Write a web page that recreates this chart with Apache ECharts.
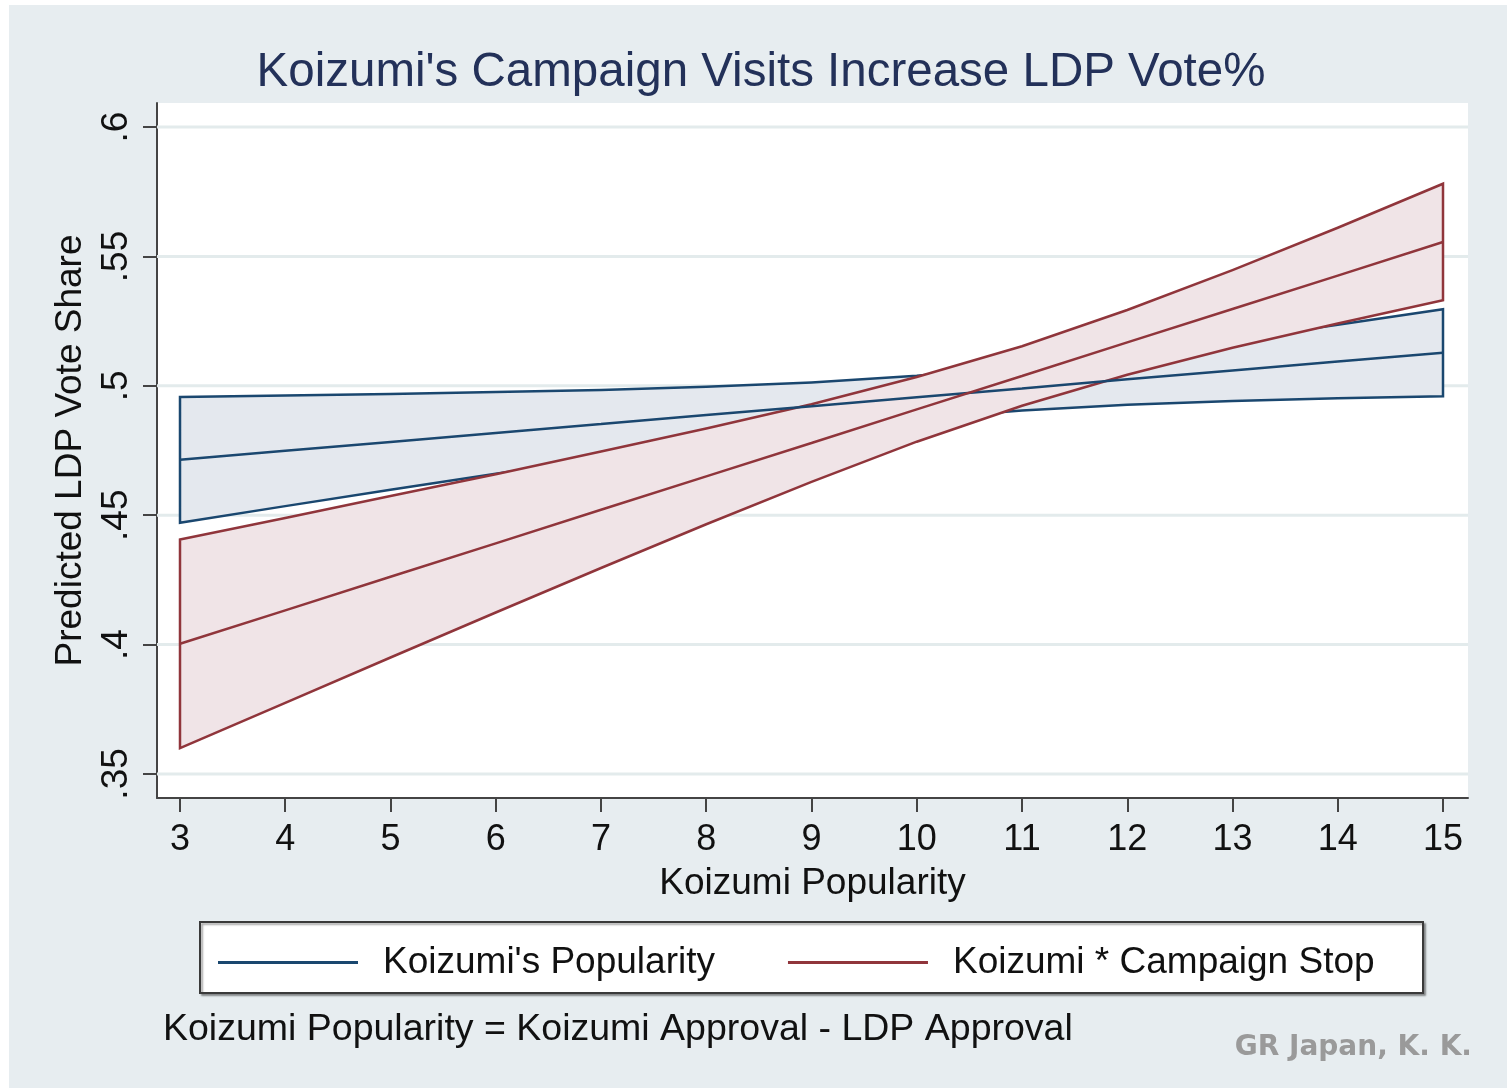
<!DOCTYPE html>
<html>
<head>
<meta charset="utf-8">
<script src="https://cdn.jsdelivr.net/npm/echarts@6/dist/echarts.min.js"></script>
<style>
  html, body { margin: 0; padding: 0; background: #fff; }
  #main { position: absolute; left: 9px; top: 5px; width: 1498px; height: 1083px; background: #e7edf0; }
</style>
</head>
<body>
<div id="main"></div>
<script>
// predicted vote share by Koizumi popularity, with 95% bands
const xs = [3, 4, 5, 6, 7, 8, 9, 10, 11, 12, 13, 14, 15];
const blueFit   = [0.4714, 0.4749, 0.4783, 0.4818, 0.4852, 0.4887, 0.4921, 0.4956, 0.4990, 0.5025, 0.5059, 0.5094, 0.5128];
const blueUpper = [0.4957, 0.4963, 0.4968, 0.4976, 0.4984, 0.4996, 0.5013, 0.5039, 0.5075, 0.5123, 0.5177, 0.5236, 0.5296];
const blueLower = [0.4471, 0.4535, 0.4598, 0.4660, 0.4720, 0.4778, 0.4829, 0.4873, 0.4905, 0.4927, 0.4941, 0.4952, 0.4960];
const redFit    = [0.4003, 0.4132, 0.4262, 0.4391, 0.4521, 0.4650, 0.4779, 0.4909, 0.5038, 0.5168, 0.5297, 0.5426, 0.5556];
const redUpper  = [0.4406, 0.4489, 0.4574, 0.4658, 0.4746, 0.4835, 0.4929, 0.5034, 0.5153, 0.5293, 0.5447, 0.5611, 0.5781];
const redLower  = [0.3600, 0.3775, 0.3950, 0.4124, 0.4296, 0.4465, 0.4629, 0.4784, 0.4923, 0.5043, 0.5147, 0.5241, 0.5331];
const yTicks = [0.35, 0.4, 0.45, 0.5, 0.55, 0.6];
const xTicks = [3, 4, 5, 6, 7, 8, 9, 10, 11, 12, 13, 14, 15];

const seriesNames = ["Koizumi's Popularity", "Koizumi * Campaign Stop"];
const titleText = "Koizumi's Campaign Visits Increase LDP Vote%";
const noteText = "Koizumi Popularity = Koizumi Approval - LDP Approval";

const BLUE = '#1a476f', RED = '#90353b';
const FONT = '"Liberation Sans", Arial, sans-serif';
const X_MIN = 2.7815, X_MAX = 15.2375, Y_MIN = 0.3407, Y_MAX = 0.6093;

let chart = echarts.init(document.getElementById('main'), null, { renderer: 'canvas' });

function band(lower, upper, fill, stroke, z) {
  return {
    type: 'custom',
    z: z,
    clip: true,
    silent: true,
    data: xs.map((x, i) => [x, lower[i], upper[i]]),
    encode: { x: 0, y: [1, 2] },
    renderItem: function (params, api) {
      if (params.dataIndex !== 0) return null;
      let pts = [];
      for (let i = 0; i < xs.length; i++) pts.push(api.coord([xs[i], upper[i]]));
      for (let i = xs.length - 1; i >= 0; i--) pts.push(api.coord([xs[i], lower[i]]));
      return {
        type: 'polygon',
        shape: { points: pts },
        style: { fill: fill, stroke: stroke, lineWidth: 2.5, lineJoin: 'miter' }
      };
    }
  };
}

function fitLine(name, vals, color, z) {
  return {
    name: name,
    type: 'line',
    z: z,
    symbol: 'none',
    silent: true,
    data: xs.map((x, i) => [x, vals[i]]),
    lineStyle: { color: color, width: 2.5 },
    itemStyle: { color: color }
  };
}

let option = {
  animation: false,
  textStyle: { fontFamily: FONT },
  grid: {
    left: 148, top: 98, width: 1311, height: 695,
    show: true, backgroundColor: '#fff', borderWidth: 0
  },
  xAxis: {
    type: 'value',
    min: X_MIN, max: X_MAX,
    name: 'Koizumi Popularity',
    nameLocation: 'middle',
    nameGap: 67,
    nameTextStyle: { fontSize: 37, color: '#111', fontFamily: FONT },
    axisLine: { lineStyle: { color: '#444', width: 2 } },
    axisTick: { show: true, length: 14, customValues: xTicks, lineStyle: { color: '#444', width: 2 } },
    axisLabel: { customValues: xTicks, margin: 24, fontSize: 36, color: '#111', fontFamily: FONT },
    splitLine: { show: false }
  },
  yAxis: {
    type: 'value',
    min: Y_MIN, max: Y_MAX,
    name: 'Predicted LDP Vote Share',
    nameLocation: 'middle',
    nameRotate: 90,
    nameGap: 68,
    nameTextStyle: { fontSize: 37, color: '#111', fontFamily: FONT },
    axisLine: { show: true, lineStyle: { color: '#444', width: 2 } },
    axisTick: { show: true, length: 14, customValues: yTicks, lineStyle: { color: '#444', width: 2 } },
    axisLabel: {
      customValues: yTicks, rotate: 90, margin: 22, fontSize: 37, color: '#111', fontFamily: FONT,
      formatter: v => String(v).replace(/^0/, '')
    },
    splitLine: { show: false }
  },
  legend: {
    data: seriesNames.map(n => ({ name: n, icon: 'rect' })),
    left: 204,
    top: 934,
    itemWidth: 140,
    itemHeight: 3,
    itemGap: 73,
    selectedMode: false,
    textStyle: { fontSize: 37, color: '#111', fontFamily: FONT, padding: [0, 0, 0, 20] }
  },
  graphic: [
    {
      type: 'text', z: 10,
      x: 752, y: 68,
      style: { text: titleText, font: '47.5px ' + FONT, fill: '#233159', textAlign: 'center', textVerticalAlign: 'middle' }
    },
    {
      type: 'rect', z: -1,
      shape: { x: 191, y: 917, width: 1223, height: 71 },
      style: { fill: '#fff', stroke: '#3a3a3a', lineWidth: 2, shadowColor: 'rgba(0,0,0,0.35)', shadowOffsetX: 2, shadowOffsetY: 2, shadowBlur: 2 }
    },
    {
      type: 'text', z: 10,
      x: 154, y: 1025,
      style: { text: noteText, font: '37.5px ' + FONT, fill: '#111', textAlign: 'left', textVerticalAlign: 'middle' }
    },
    {
      type: 'text', z: 10,
      x: 1463, y: 1043,
      style: { text: 'GR Japan, K. K.', font: 'bold 28px "DejaVu Sans", sans-serif', fill: '#9a9a9a', textAlign: 'right', textVerticalAlign: 'middle' }
    }
  ],
  series: [
    {
      // light horizontal grid lines
      type: 'custom',
      z: 1,
      silent: true,
      clip: true,
      data: yTicks.map(v => [X_MIN, v]),
      renderItem: function (params, api) {
        let a = api.coord([X_MIN, api.value(1)]);
        let b = api.coord([X_MAX, api.value(1)]);
        return {
          type: 'line',
          shape: { x1: a[0], y1: a[1], x2: b[0], y2: b[1] },
          style: { stroke: '#e3ebec', lineWidth: 3 }
        };
      }
    },
    band(blueLower, blueUpper, '#e4e8ee', BLUE, 2),
    band(redLower, redUpper, '#f0e4e7', RED, 3),
    fitLine(seriesNames[0], blueFit, BLUE, 4),
    fitLine(seriesNames[1], redFit, RED, 5)
  ]
};

chart.setOption(option);
</script>
</body>
</html>
